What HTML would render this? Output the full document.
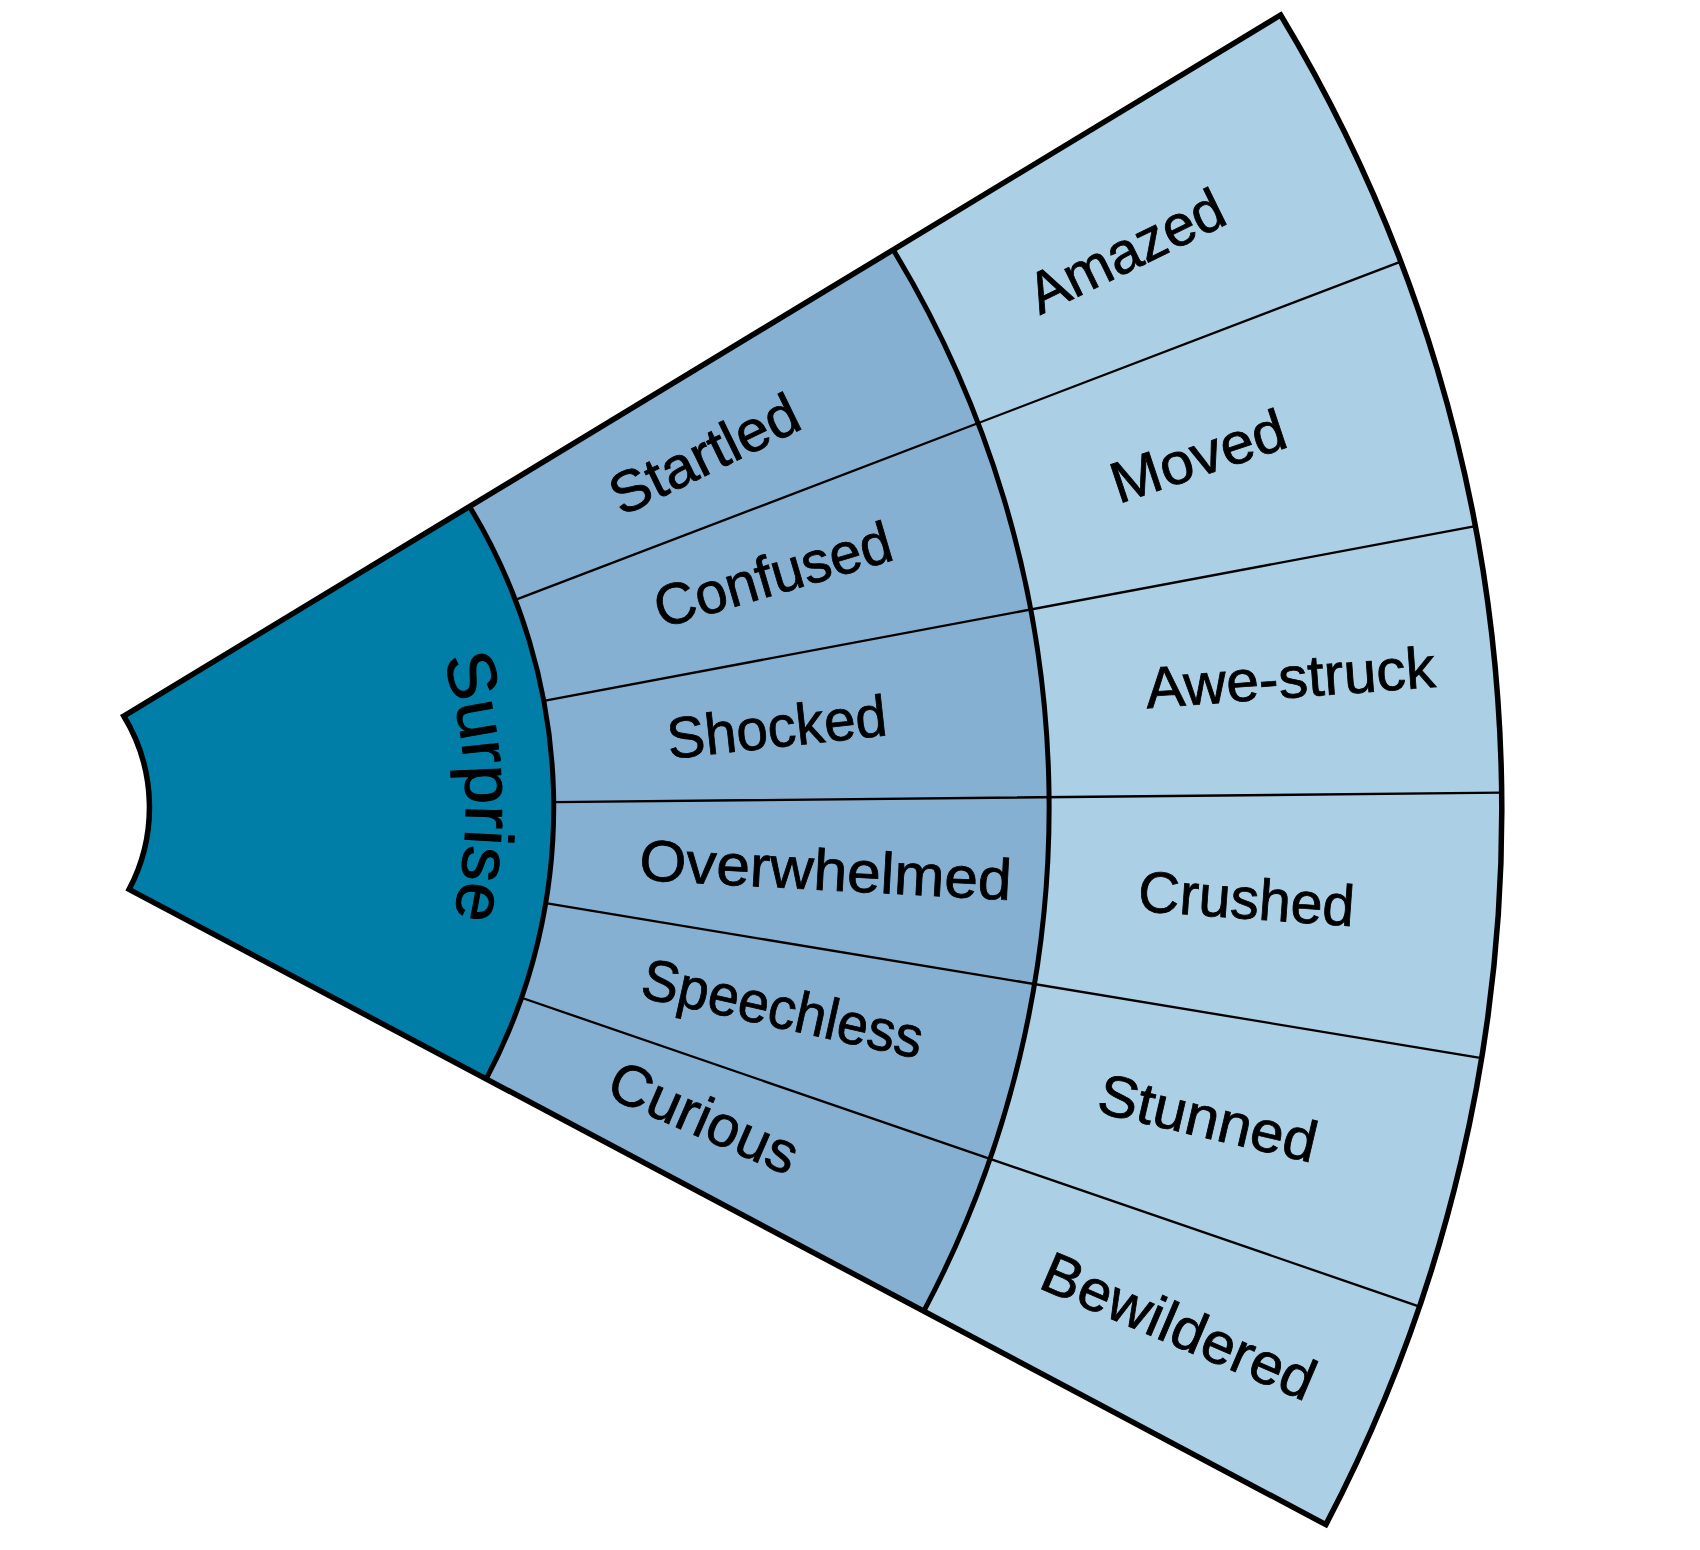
<!DOCTYPE html>
<html><head><meta charset="utf-8"><style>
html,body{margin:0;padding:0;background:#fff;}
svg{display:block;}
text{font-family:"Liberation Sans",sans-serif;fill:#000;}
</style></head><body>
<svg width="1700" height="1550" viewBox="0 0 1700 1550" xmlns="http://www.w3.org/2000/svg">
<rect width="1700" height="1550" fill="#fff"/>
<path d="M123.78,716.03 L469.55,506.50 A579.8,579.8 0 0 1 486.20,1078.91 L129.10,889.35 A175.5,175.5 0 0 0 123.78,716.03 Z" fill="#007ea8"/>
<path d="M469.55,506.50 L893.23,249.76 A1075.2,1075.2 0 0 1 923.77,1311.19 L486.20,1078.91 A579.8,579.8 0 0 0 469.55,506.50 Z" fill="#85b0d1"/>
<path d="M893.23,249.76 L1280.63,15.01 A1539.4,1539.4 0 0 1 1325.87,1524.63 L923.77,1311.19 A1075.2,1075.2 0 0 0 893.23,249.76 Z" fill="#abcfe5"/>
<path d="M515.33,599.91 L1400.81,261.61 M543.83,700.76 L1475.41,526.16 M553.70,802.11 L1501.70,792.70 M545.75,903.18 L1481.67,1058.12 M521.57,997.76 L1419.51,1306.57 " stroke="#000" stroke-width="2.3" fill="none"/>
<path d="M469.55,506.50 A579.8,579.8 0 0 1 486.20,1078.91" stroke="#000" stroke-width="5" fill="none"/>
<path d="M893.23,249.76 A1075.2,1075.2 0 0 1 923.77,1311.19" stroke="#000" stroke-width="5" fill="none"/>
<path d="M123.78,716.03 L1280.63,15.01 A1539.4,1539.4 0 0 1 1325.87,1524.63 L129.10,889.35 A175.5,175.5 0 0 0 123.78,716.03 Z" stroke="#000" stroke-width="5.5" fill="none" stroke-linejoin="miter"/>
<defs><path id="sarc" d="M442.86,658.52 A492,492 0 0 1 410.77,1033.71"/></defs>
<text font-size="68" stroke="#000" stroke-width="1.0"><textPath href="#sarc" startOffset="0" textLength="262.5" lengthAdjust="spacingAndGlyphs">Surprise</textPath></text>
<text x="0" y="0" font-size="58" stroke="#000" stroke-width="0.8" textLength="210.9" lengthAdjust="spacingAndGlyphs" transform="translate(1040.1,315.2) rotate(-26.00)">Amazed</text>
<text x="0" y="0" font-size="58" stroke="#000" stroke-width="0.8" textLength="203.4" lengthAdjust="spacingAndGlyphs" transform="translate(621.6,516.8) rotate(-26.00)">Startled</text>
<text x="0" y="0" font-size="58" stroke="#000" stroke-width="0.8" textLength="181.0" lengthAdjust="spacingAndGlyphs" transform="translate(1118.6,503.9) rotate(-18.50)">Moved</text>
<text x="0" y="0" font-size="58" stroke="#000" stroke-width="0.8" textLength="244.8" lengthAdjust="spacingAndGlyphs" transform="translate(661.1,628.4) rotate(-16.40)">Confused</text>
<text x="0" y="0" font-size="58" stroke="#000" stroke-width="0.8" textLength="290.2" lengthAdjust="spacingAndGlyphs" transform="translate(1146.9,708.2) rotate(-4.20)">Awe-struck</text>
<text x="0" y="0" font-size="58" stroke="#000" stroke-width="0.8" textLength="220.6" lengthAdjust="spacingAndGlyphs" transform="translate(669.3,758.9) rotate(-6.20)">Shocked</text>
<text x="0" y="0" font-size="58" stroke="#000" stroke-width="0.8" textLength="372.7" lengthAdjust="spacingAndGlyphs" transform="translate(638.4,880.0) rotate(3.10)">Overwhelmed</text>
<text x="0" y="0" font-size="58" stroke="#000" stroke-width="0.8" textLength="216.6" lengthAdjust="spacingAndGlyphs" transform="translate(1137.1,910.9) rotate(4.10)">Crushed</text>
<text x="0" y="0" font-size="58" stroke="#000" stroke-width="0.8" textLength="286.2" lengthAdjust="spacingAndGlyphs" transform="translate(638.8,996.9) rotate(12.50)">Speechless</text>
<text x="0" y="0" font-size="58" stroke="#000" stroke-width="0.8" textLength="222.8" lengthAdjust="spacingAndGlyphs" transform="translate(1094.9,1111.9) rotate(13.20)">Stunned</text>
<text x="0" y="0" font-size="58" stroke="#000" stroke-width="0.8" textLength="200.5" lengthAdjust="spacingAndGlyphs" transform="translate(604.1,1095.8) rotate(23.50)">Curious</text>
<text x="0" y="0" font-size="58" stroke="#000" stroke-width="0.8" textLength="291.6" lengthAdjust="spacingAndGlyphs" transform="translate(1037.0,1287.3) rotate(23.10)">Bewildered</text>

</svg>
</body></html>
